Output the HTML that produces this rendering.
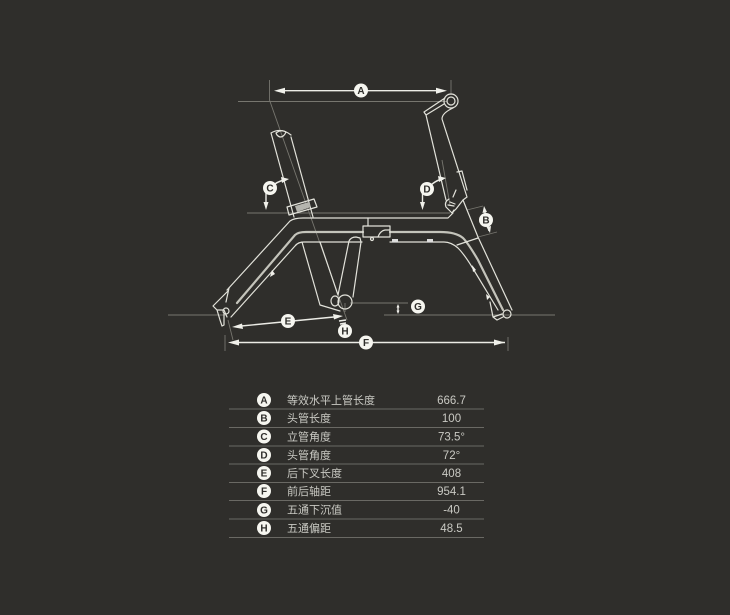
<!DOCTYPE html>
<html><head><meta charset="utf-8"><style>
html,body{margin:0;padding:0;background:#2f2e2b;width:730px;height:615px;overflow:hidden}
svg{display:block}
.f{fill:none;stroke:#e2e2da;stroke-width:1.2;stroke-linejoin:round;stroke-linecap:round}
.t{fill:none;stroke:#c4c4bb;stroke-width:2.2;stroke-linecap:round}
.d{fill:none;stroke:#77766f;stroke-width:.9}
.a{fill:none;stroke:#ecece6;stroke-width:1.4}
.h{fill:#f0f0ea}
.c{fill:#f6f6f0}
.l{font:bold 10px "Liberation Sans",sans-serif;fill:#2f2e2b;text-anchor:middle}
.k{font:11px "Liberation Sans","Noto Sans CJK SC",sans-serif;fill:#c9c9c3}
.v{font:11.5px "Liberation Sans",sans-serif;fill:#c9c9c3;text-anchor:middle}
.r{stroke:#6a6964;stroke-width:1.1}
</style></head><body>
<svg width="730" height="615" viewBox="0 0 730 615" xmlns="http://www.w3.org/2000/svg">
<!-- reference lines -->
<path class="d" d="M238 101.5H447M269.5 80V100L347 320M247 213H450M168 315H226M384 315H555M350 303H408M225 335V351M508 337V351M228 320L233 340M442 160L450 205M451 80V95M467 210L483 206M478 237L497 232M345 303V312"/>
<!-- seat post -->
<path class="f" d="M271 133L294 217M291 137L313 217M271 133Q281 127 291 135"/>
<path class="f" d="M276 133Q281 129 286 132Q284 137 280 137Q277 136 276 133Z" stroke-width=".9"/>
<path class="f" d="M287 207L314 199L317 207L289 215Z"/>
<path d="M295 206L309 202L311 207L297 212Z" fill="#b5b5ae"/>
<!-- top frame -->
<path class="f" d="M227 290L290 221Q294 218 303 218H448L453 213"/>
<path class="t" d="M237 303L295 235Q298 232 306 232H363M390 232H440Q456 232 463 238Q468 243 478 260L503 310"/>
<path class="f" d="M231 317L295 246Q298 242 304 242H362M390 242H444Q451 242 458 248Q464 254 472 267L498 310"/>
<path class="f" d="M457 245L478 238"/>
<path class="h" d="M272 270L275 274L270 277ZM472 265L476 270L473 272ZM486 294L490 297L487 300Z"/>
<!-- seat tube and fin -->
<path class="f" d="M302 242L320 305L340 311M320 242L338 295M349 241Q351 237 356 237L360 238L361 242L353 297M349 241L338 295"/>
<circle class="f" cx="345" cy="302" r="7" stroke-width="1.4"/>
<ellipse class="f" cx="335" cy="301" rx="4" ry="5"/>
<!-- cable box -->
<path class="f" d="M368 218V226M363 226H390V237H363Z" stroke-width="1.4"/>
<path class="f" d="M378 237Q380 231 385 230H390"/>
<rect x="392" y="239" width="6" height="3.5" fill="#ddd"/><rect x="427" y="239" width="6" height="3.500" fill="#ddd"/>
<circle class="f" cx="372" cy="239" r="1.5"/>
<!-- stem and head -->
<circle class="f" cx="451" cy="101" r="7" stroke-width="1.6"/>
<circle class="f" cx="451" cy="101" r="4" stroke-width="1.6"/>
<path class="f" d="M445 98L424 112L426 115L444 104M426 115L446 200M453 108Q442 113 442 119L467 197M457 172L462 171L467 190M467 197L463 200L467 210L478 237L512 310"/>
<!-- headset -->
<path class="f" d="M449 199Q444 202 446 207L452 213L456 209L463 200M450 202L455 204M453 197L456 190M448 205L454 206M452 213L454 210" stroke-width="1"/>
<!-- rear dropout -->
<path class="f" d="M213 306L222 297L228 291L229 288L226 302M213 306L217 310L224 310L227 317M217 310L220 320L222 326L224 325L224 314"/>
<circle class="f" cx="226" cy="311" r="3"/>
<!-- front dropout -->
<circle class="f" cx="507" cy="314" r="4" stroke-width="1.6"/>
<path class="f" d="M493 317L502 314M497 320L503 317M493 317L497 320M490 302L493 317"/>
<!-- dim arrows -->
<path class="a" d="M278 90.7H444"/>
<path class="h" d="M274 90.7L285 87.7V93.7ZM447 90.7L436 87.7V93.7Z"/>
<path class="a" d="M232 342.5H505"/>
<path class="h" d="M228 342.500L239 339.500V345.500ZM505 342.500L494 339.500V345.500Z"/>
<path class="a" d="M236 326.500L339 316.500"/>
<path class="h" d="M232 327L242 323.500L243 329ZM343 316L333 314L334 319.500Z"/>
<path class="a" d="M270 188Q277 181 285 180M266 190V206M427 189Q435 180 443 179M422.500 190V206M484.500 209L486 220L489 231"/>
<path class="h" d="M289 179L281 177L282 183ZM266 210L263.500 202H268.500ZM446 178L438 176L439 182ZM422.500 210L420 202H425ZM484 206L482.500 213L487 212ZM490 233L486.500 227L491 226Z"/>
<path class="a" d="M398 307V311" stroke-width="1"/>
<path class="h" d="M398 304L396.500 307.500H399.500ZM398 314L396.500 310.500H399.500Z"/>
<path class="a" d="M339 321L346 320M340 324L346 323"/>
<!-- diagram labels -->
<g>
<circle class="c" cx="361" cy="90.500" r="7"/><text class="l" x="361" y="94">A</text>
<circle class="c" cx="486" cy="220" r="7"/><text class="l" x="486" y="223.500">B</text>
<circle class="c" cx="270" cy="188" r="7"/><text class="l" x="270" y="191.500">C</text>
<circle class="c" cx="427" cy="189" r="7"/><text class="l" x="427" y="192.500">D</text>
<circle class="c" cx="288" cy="321" r="7"/><text class="l" x="288" y="324.500">E</text>
<circle class="c" cx="366" cy="342.500" r="7"/><text class="l" x="366" y="346">F</text>
<circle class="c" cx="418" cy="306.500" r="7"/><text class="l" x="418" y="310">G</text>
<circle class="c" cx="345" cy="331" r="7"/><text class="l" x="345" y="334.500">H</text>
</g>
<!-- table -->
<g class="r">
<path class="r" d="M229 409H484M229 427.500H484M229 446H484M229 464H484M229 482.500H484M229 500.500H484M229 519H484M229 537.500H484"/>
</g>
<g>
<circle class="c" cx="264" cy="400" r="7"/><text class="l" x="264" y="403.500">A</text><text class="k" x="287" y="404">等效水平上管长度</text><text class="v" x="451.500" y="404">666.7</text>
<circle class="c" cx="264" cy="418" r="7"/><text class="l" x="264" y="421.500">B</text><text class="k" x="287" y="422">头管长度</text><text class="v" x="451.500" y="422">100</text>
<circle class="c" cx="264" cy="436.500" r="7"/><text class="l" x="264" y="440">C</text><text class="k" x="287" y="440.500">立管角度</text><text class="v" x="451.500" y="440.500">73.5°</text>
<circle class="c" cx="264" cy="455" r="7"/><text class="l" x="264" y="458.500">D</text><text class="k" x="287" y="459">头管角度</text><text class="v" x="451.500" y="459">72°</text>
<circle class="c" cx="264" cy="473" r="7"/><text class="l" x="264" y="476.500">E</text><text class="k" x="287" y="477">后下叉长度</text><text class="v" x="451.500" y="477">408</text>
<circle class="c" cx="264" cy="491" r="7"/><text class="l" x="264" y="494.500">F</text><text class="k" x="287" y="495">前后轴距</text><text class="v" x="451.500" y="495">954.1</text>
<circle class="c" cx="264" cy="510" r="7"/><text class="l" x="264" y="513.500">G</text><text class="k" x="287" y="513.500">五通下沉值</text><text class="v" x="451.500" y="513.500">-40</text>
<circle class="c" cx="264" cy="528" r="7"/><text class="l" x="264" y="531.500">H</text><text class="k" x="287" y="532">五通偏距</text><text class="v" x="451.500" y="532">48.5</text>
</g>
</svg>
</body></html>
